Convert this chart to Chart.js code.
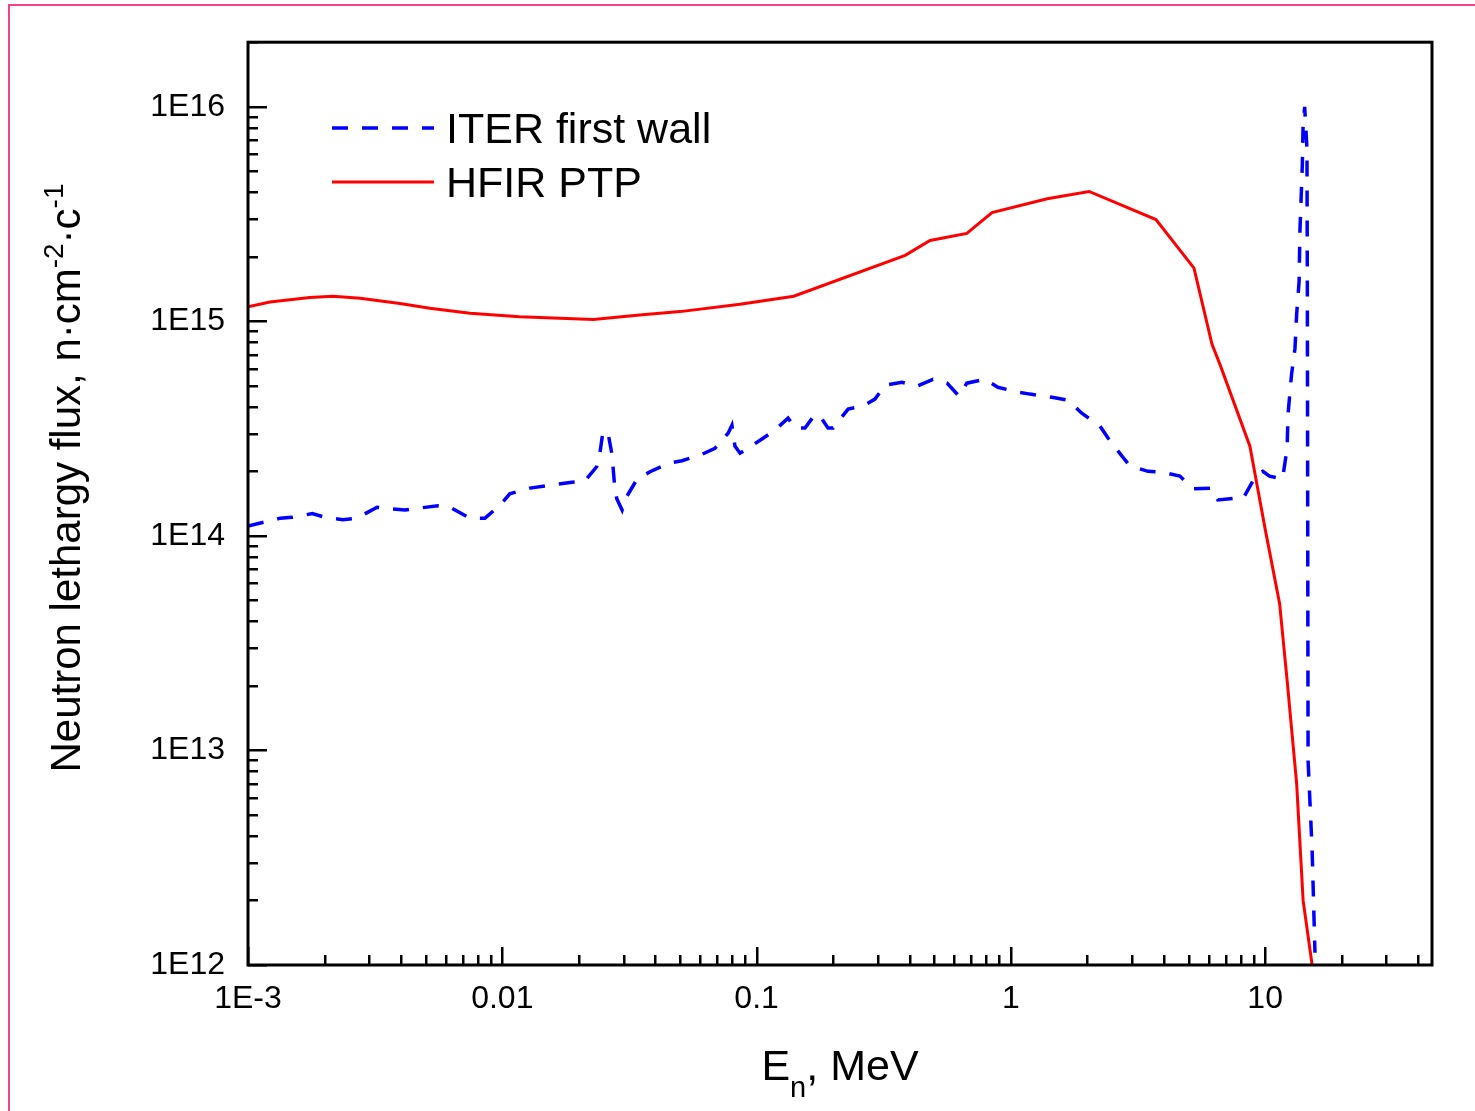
<!DOCTYPE html>
<html>
<head>
<meta charset="utf-8">
<script src="https://cdn.jsdelivr.net/npm/chart.js@4.4.1/dist/chart.umd.min.js"></script>
<style>
  body { margin: 0; background: #fff; }
  canvas { display: block; }
</style>
</head>
<body>
<canvas id="fluxChart" width="1475" height="1111"></canvas>
<script>
/* neutron lethargy flux spectra */

// ITER first wall (dashed blue)
const iterEnergy = [0.001, 0.00134, 0.00149, 0.00179, 0.00201, 0.00236, 0.00268, 0.00322, 0.00355, 0.00414,
  0.00475, 0.00559, 0.00622, 0.00746, 0.00855, 0.0098, 0.0107, 0.01285, 0.0158, 0.0188,
  0.0211, 0.0235, 0.0242, 0.0249, 0.0261, 0.0270, 0.0277, 0.0282, 0.0296, 0.0309,
  0.0339, 0.0381, 0.0456, 0.0509, 0.0610, 0.0686, 0.0773, 0.0800, 0.0822, 0.0861,
  0.0916, 0.105, 0.118, 0.133, 0.142, 0.155, 0.170, 0.181, 0.191, 0.200,
  0.229, 0.262, 0.292, 0.320, 0.373, 0.428, 0.494, 0.561, 0.625, 0.671,
  0.791, 0.889, 1.066, 1.19, 1.45, 1.68, 1.90, 2.24, 2.41, 2.73,
  2.94, 3.46, 3.96, 4.62, 5.20, 6.18, 6.52, 7.81, 8.18, 9.27,
  9.79, 10.4, 11.7, 12.2, 12.3, 12.7, 13.1, 13.3, 13.6, 13.7,
  14.0, 14.1, 14.3, 14.6, 14.65, 14.7, 14.75, 15.3, 15.7];
const iterFlux = [1.11e14, 1.21e14, 1.22e14, 1.27e14, 1.22e14, 1.19e14, 1.21e14, 1.36e14, 1.34e14, 1.32e14,
  1.35e14, 1.38e14, 1.36e14, 1.21e14, 1.21e14, 1.39e14, 1.57e14, 1.67e14, 1.73e14, 1.78e14,
  1.80e14, 2.10e14, 2.43e14, 3.08e14, 2.98e14, 2.40e14, 1.67e14, 1.49e14, 1.32e14, 1.53e14,
  1.84e14, 1.99e14, 2.19e14, 2.24e14, 2.40e14, 2.56e14, 3.01e14, 3.28e14, 2.62e14, 2.43e14,
  2.54e14, 2.83e14, 3.11e14, 3.54e14, 3.18e14, 3.18e14, 3.69e14, 3.50e14, 3.18e14, 3.18e14,
  3.90e14, 4.03e14, 4.34e14, 5.04e14, 5.20e14, 4.99e14, 5.37e14, 5.15e14, 4.48e14, 5.15e14,
  5.37e14, 4.93e14, 4.68e14, 4.58e14, 4.43e14, 4.29e14, 3.73e14, 3.25e14, 2.86e14, 2.36e14,
  2.12e14, 2.00e14, 1.98e14, 1.90e14, 1.66e14, 1.67e14, 1.47e14, 1.50e14, 1.49e14, 1.94e14,
  2.00e14, 1.90e14, 1.84e14, 2.56e14, 3.69e14, 5.66e14, 7.48e14, 1.08e15, 1.54e15, 2.63e15,
  5.37e15, 8.25e15, 1.0e16, 6.38e15, 1.54e15, 1.27e14, 8.97e12, 3.43e12, 1.14e12];

// HFIR PTP (solid red)
const hfirEnergy = [0.001, 0.00122, 0.00175, 0.00216, 0.00276, 0.00396, 0.00519, 0.00746, 0.0117, 0.0228,
  0.0347, 0.05, 0.0861, 0.14, 0.384, 0.481, 0.671, 0.843, 1.39, 2.03,
  3.72, 5.25, 6.18, 6.64, 8.71, 9.98, 11.4, 12.2, 13.3, 14.1,
  15.3];
const hfirFlux = [1.17e15, 1.23e15, 1.29e15, 1.31e15, 1.28e15, 1.21e15, 1.15e15, 1.09e15, 1.05e15, 1.02e15,
  1.07e15, 1.11e15, 1.20e15, 1.31e15, 2.03e15, 2.38e15, 2.57e15, 3.21e15, 3.73e15, 4.03e15,
  2.98e15, 1.77e15, 7.82e14, 6.3e14, 2.62e14, 1.09e14, 4.83e13, 2.12e13, 7.0e12, 2.0e12,
  1.0e12];

const xTickValues = [1e-3, 0.01, 0.1, 1, 10];
const xTickLabels = ['1E-3', '0.01', '0.1', '1', '10'];
const yTickValues = [1e12, 1e13, 1e14, 1e15, 1e16];
const yTickLabels = ['1E12', '1E13', '1E14', '1E15', '1E16'];

const FONT = "'Liberation Sans', Arial, sans-serif";

function toPoints(xs, ys) {
  return xs.map((x, i) => ({ x: x, y: ys[i] }));
}

// minor/major values for the inward tick marks
function logTicks(min, max) {
  const out = [];
  for (let e = Math.floor(Math.log10(min)); e <= Math.ceil(Math.log10(max)); e++) {
    for (let k = 1; k <= 9; k++) {
      const v = k * Math.pow(10, e);
      if (v >= min * 0.9999 && v <= max * 1.0001) out.push({ v: v, major: k === 1 });
    }
  }
  return out;
}

const decor = {
  id: 'decor',
  beforeDraw(chart) {
    const c = chart.ctx;
    c.save();
    c.fillStyle = '#fff';
    c.fillRect(0, 0, chart.width, chart.height);
    c.strokeStyle = '#f4428a';
    c.lineWidth = 2;
    c.beginPath();
    c.moveTo(9, chart.height);
    c.lineTo(9, 5);
    c.lineTo(chart.width, 5);
    c.stroke();
    c.restore();
  },
  afterDraw(chart) {
    const c = chart.ctx;
    const a = chart.chartArea;
    const xs = chart.scales.x;
    const ys = chart.scales.y;
    c.save();

    // tick marks pointing into the plot
    c.strokeStyle = '#000';
    c.lineWidth = 2.5;
    c.beginPath();
    logTicks(xs.min, xs.max).forEach(t => {
      const px = Math.round(xs.getPixelForValue(t.v)) + 0.25;
      c.moveTo(px, a.bottom);
      c.lineTo(px, a.bottom - (t.major ? 18 : 10));
    });
    logTicks(ys.min, ys.max).forEach(t => {
      const py = Math.round(ys.getPixelForValue(t.v)) + 0.25;
      c.moveTo(a.left, py);
      c.lineTo(a.left + (t.major ? 19 : 10), py);
    });
    c.stroke();

    // frame
    c.lineWidth = 3;
    c.strokeRect(a.left, a.top, a.right - a.left, a.bottom - a.top);

    // x title: E_n, MeV
    c.fillStyle = '#000';
    c.textBaseline = 'alphabetic';
    c.textAlign = 'left';
    const big = '43px ' + FONT, small = '29px ' + FONT;
    c.font = big;
    const wE = c.measureText('E').width;
    const wRest = c.measureText(', MeV').width;
    c.font = small;
    const wn = c.measureText('n').width;
    let x0 = (a.left + a.right) / 2 - (wE + wn + wRest) / 2;
    const base = 1080;
    c.font = big;
    c.fillText('E', x0, base);
    c.font = small;
    c.fillText('n', x0 + wE, base + 17);
    c.font = big;
    c.fillText(', MeV', x0 + wE + wn, base);

    // y title with superscripts, rotated
    const yBig = '42px ' + FONT, ySmall = '28px ' + FONT;
    const parts = [
      ['Neutron lethargy flux, n\u00b7cm', yBig, 0],
      ['-2', ySmall, -17],
      ['\u00b7c', yBig, 0],
      ['-1', ySmall, -17]
    ];
    let total = 0;
    parts.forEach(p => { c.font = p[1]; p.push(c.measureText(p[0]).width); total += p[3]; });
    c.translate(80, 478);
    c.rotate(-Math.PI / 2);
    let u = -total / 2;
    parts.forEach(p => {
      c.font = p[1];
      c.fillText(p[0], u, p[2]);
      u += p[3];
    });
    c.restore();

    // legend, built from the dataset styles
    c.save();
    chart.data.datasets.forEach((ds, i) => {
      const ly = 128 + i * 54;
      c.strokeStyle = ds.borderColor;
      c.lineWidth = ds.borderWidth;
      c.setLineDash(ds.borderDash || []);
      c.beginPath();
      c.moveTo(332, ly);
      c.lineTo(434, ly);
      c.stroke();
      c.setLineDash([]);
      c.fillStyle = '#000';
      c.font = big;
      c.textBaseline = 'alphabetic';
      c.fillText(ds.label, 446, ly + 15);
    });
    c.restore();
  }
};

const ctx = document.getElementById('fluxChart');

const fluxChart = new Chart(ctx, {
  type: 'scatter',
  data: {
    datasets: [{
      label: 'ITER first wall',
      data: toPoints(iterEnergy, iterFlux),
      showLine: true,
      borderColor: '#0000ff',
      borderWidth: 3.5,
      borderDash: [16, 14],
      pointRadius: 0,
      tension: 0
    }, {
      label: 'HFIR PTP',
      data: toPoints(hfirEnergy, hfirFlux),
      showLine: true,
      borderColor: '#ff0000',
      borderWidth: 3,
      pointRadius: 0,
      tension: 0
    }]
  },
  options: {
    responsive: false,
    animation: false,
    devicePixelRatio: 1,
    layout: { padding: { left: 0, top: 41, right: 43, bottom: 0 } },
    scales: {
      x: {
        type: 'logarithmic',
        min: 1e-3,
        max: 45.3,
        grid: { display: false, drawTicks: false },
        border: { display: false },
        afterBuildTicks: s => { s.ticks = xTickValues.map(v => ({ value: v })); },
        afterFit: s => { s.height = 146; },
        ticks: {
          autoSkip: false,
          maxRotation: 0,
          padding: 15,
          color: '#000',
          font: { family: FONT, size: 32 },
          callback: (v, i) => xTickLabels[i]
        }
      },
      y: {
        type: 'logarithmic',
        min: 1e12,
        max: 2e16,
        grid: { display: false, drawTicks: false },
        border: { display: false },
        afterBuildTicks: s => { s.ticks = yTickValues.map(v => ({ value: v })); },
        afterFit: s => { s.width = 248; },
        ticks: {
          autoSkip: false,
          padding: 23,
          color: '#000',
          font: { family: FONT, size: 32 },
          callback: (v, i) => yTickLabels[i]
        }
      }
    },
    plugins: {
      legend: { display: false },
      tooltip: { enabled: false }
    }
  },
  plugins: [decor]
});
</script>
</body>
</html>
